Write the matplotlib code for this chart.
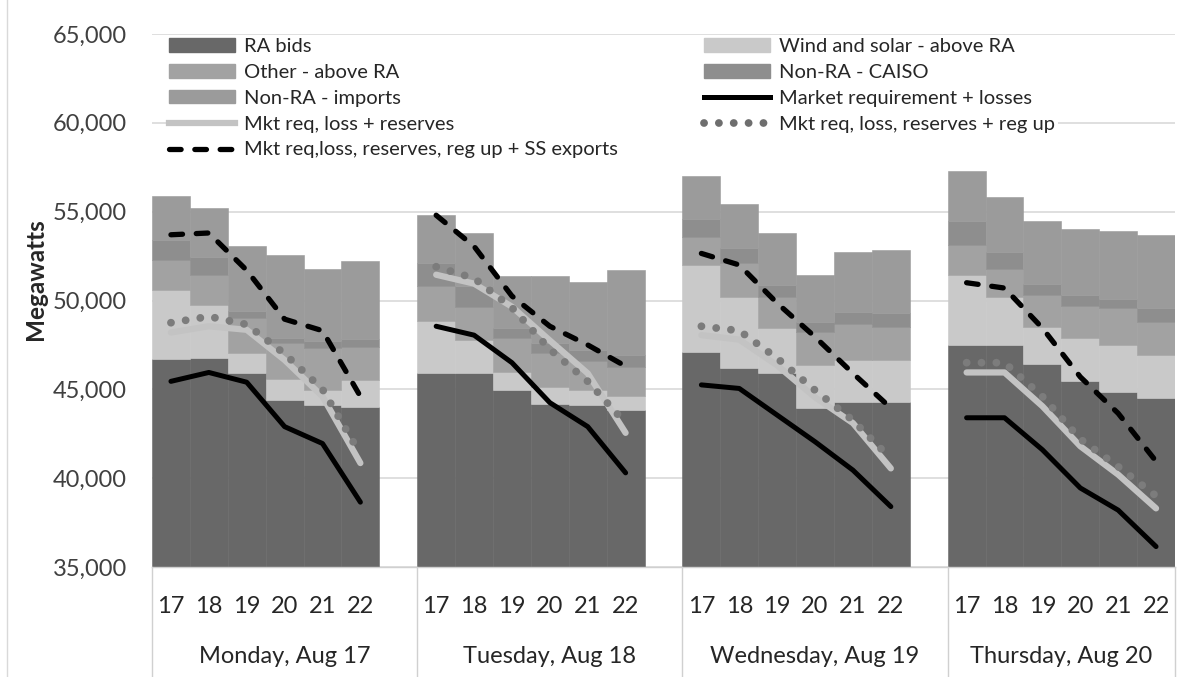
import matplotlib.pyplot as plt
import matplotlib.transforms as mtransforms
from matplotlib.patches import Patch
from matplotlib.lines import Line2D

plt.rcParams['font.family'] = ['Lato', 'DejaVu Sans']

days = ['Monday, Aug 17', 'Tuesday, Aug 18', 'Wednesday, Aug 19', 'Thursday, Aug 20']
hours = [17, 18, 19, 20, 21, 22]

# stacked layers (MW), 6 hours per day, Mon..Thu
ra_bids = [46700, 46750, 45900, 44400, 44100, 44000,
           45900, 45900, 44950, 44200, 44100, 43850,
           47100, 46200, 45900, 43950, 44300, 44300,
           47500, 47500, 46450, 45450, 44850, 44500]
wind_solar = [3900, 3000, 1150, 1200, 850, 1500,
              2950, 1850, 1050, 950, 850, 750,
              4900, 4000, 2550, 2400, 2350, 2350,
              3950, 2700, 2050, 2450, 2650, 2450]
other_above = [1700, 1700, 1950, 2000, 2350, 1900,
               1950, 1900, 1900, 1900, 1650, 1650,
               1600, 1900, 1750, 1900, 2050, 1850,
               1650, 1600, 1800, 1800, 2050, 1850]
nonra_caiso = [1100, 1000, 400, 300, 400, 450,
               1300, 1150, 550, 550, 600, 700,
               1000, 850, 650, 550, 650, 800,
               1350, 950, 650, 600, 550, 750]
nonra_imports = [2500, 2750, 3650, 4650, 4100, 4350,
                 2700, 3000, 2950, 3800, 3850, 4750,
                 2400, 2500, 2950, 2650, 3400, 3550,
                 2850, 3050, 3500, 3700, 3800, 4150]

# requirement lines
mkt_req = [45450, 45950, 45400, 42900, 41950, 38650,
           48550, 48050, 46500, 44250, 42900, 40300,
           45250, 45050, 43550, 42050, 40450, 38400,
           43400, 43400, 41600, 39450, 38200, 36150]
req_reserves = [48200, 48550, 48350, 46650, 44600, 40850,
                51450, 50950, 49650, 47750, 45900, 42550,
                48050, 47800, 46350, 44550, 43100, 40550,
                45950, 45950, 44050, 41800, 40200, 38300]
req_regup = [48750, 49100, 48650, 47000, 45000, 41350,
             51900, 51250, 49600, 47250, 45450, 43100,
             48550, 48300, 46750, 44950, 43250, 41100,
             46500, 46500, 44600, 42200, 40650, 39000]
req_ss_exports = [53700, 53800, 51700, 48950, 48300, 44600,
                  54800, 53050, 50250, 48550, 47500, 46300,
                  52650, 52000, 49850, 47950, 45900, 43950,
                  51000, 50700, 48450, 45700, 43650, 40950]

layers = [
    ('RA bids', ra_bids, '#686868'),
    ('Wind and solar - above RA', wind_solar, '#c9c9c9'),
    ('Other - above RA', other_above, '#a2a2a2'),
    ('Non-RA - CAISO', nonra_caiso, '#8e8e8e'),
    ('Non-RA - imports', nonra_imports, '#9b9b9b'),
]

DOT = (0, (0.01, 1.9))
DASH = (0, (2.2, 2.6))
DOT_COLOR = '#7c7c7c'

n_h = len(hours)
xpos = [d * (n_h + 1) + h for d in range(len(days)) for h in range(n_h)]

fig = plt.figure(figsize=(12, 6.77), dpi=100)
ax = fig.add_axes([152 / 1200, 1 - 567 / 677, 1023 / 1200, 533 / 677])

bottom = [0] * len(xpos)
for name, vals, col in layers:
    ax.bar(xpos, vals, width=1.0, bottom=bottom, color=col, edgecolor=col,
           linewidth=0.4, zorder=2)
    bottom = [b + v for b, v in zip(bottom, vals)]

for d in range(len(days)):
    xs = xpos[d * n_h:(d + 1) * n_h]
    sl = slice(d * n_h, (d + 1) * n_h)
    ax.plot(xs, req_reserves[sl], color='#c3c3c3', lw=4.5,
            solid_capstyle='round', zorder=3)
    ax.plot(xs, req_regup[sl], color=DOT_COLOR, lw=5.6, linestyle=DOT,
            dash_capstyle='round', zorder=4)
    ax.plot(xs, mkt_req[sl], color='black', lw=3.6,
            solid_capstyle='round', zorder=4)
    ax.plot(xs, req_ss_exports[sl], color='black', lw=3.8,
            linestyle=DASH, dash_capstyle='round', zorder=4)

ax.set_ylim(35000, 65000)
ax.set_xlim(-0.5, xpos[-1] + 0.5)
ax.set_yticks(range(35000, 65001, 5000))
ax.set_yticklabels([f'{v:,}' for v in range(35000, 65001, 5000)])
ax.yaxis.grid(True, color='#d9d9d9', lw=1.2, zorder=0)
ax.set_axisbelow(True)
for s in ['top', 'right', 'left']:
    ax.spines[s].set_visible(False)
ax.spines['bottom'].set_color('#d0d0d0')
ax.spines['bottom'].set_linewidth(1.0)
ax.tick_params(axis='y', length=0, pad=18, labelsize=17, labelcolor='#404040')
ax.set_xticks(xpos)
ax.set_xticklabels([str(h) for h in hours] * len(days))
ax.tick_params(axis='x', length=0, pad=21, labelsize=17, labelcolor='#262626')

ax.set_ylabel('Megawatts', fontsize=17.5, fontweight='bold', color='#262626')
ax.yaxis.set_label_coords(-0.103, 0.54)

# two-level category separators and day names
trans = mtransforms.blended_transform_factory(ax.transData, ax.transAxes)
seps = [-0.5] + [d * (n_h + 1) + n_h + 0.5 for d in range(len(days) - 1)] + [xpos[-1] + 0.5]
for sx in seps:
    ax.plot([sx, sx], [0, -0.21], transform=trans, color='#d0d0d0', lw=1.0,
            clip_on=False)
for d, name in enumerate(days):
    cx = (seps[d] + seps[d + 1]) / 2
    ax.text(cx, -0.167, name, transform=trans, ha='center', va='center',
            fontsize=17, color='#262626')

# legend (row-major order as in the original)
h = {}
for name, vals, col in layers:
    h[name] = Patch(facecolor=col, edgecolor=col)
h['Market requirement + losses'] = Line2D([], [], color='black', lw=3.6)
h['Mkt req, loss + reserves'] = Line2D([], [], color='#c3c3c3', lw=4.5)
h['Mkt req, loss, reserves + reg up'] = Line2D([], [], color='#6e6e6e', lw=5.6,
                                               linestyle=DOT, dash_capstyle='round')
h['Mkt req,loss, reserves, reg up + SS exports'] = Line2D([], [], color='black', lw=3.8,
                                                          linestyle=DASH,
                                                          dash_capstyle='round')
order = ['RA bids', 'Other - above RA', 'Non-RA - imports', 'Mkt req, loss + reserves',
         'Mkt req,loss, reserves, reg up + SS exports',
         'Wind and solar - above RA', 'Non-RA - CAISO', 'Market requirement + losses',
         'Mkt req, loss, reserves + reg up']
leg = ax.legend([h[k] for k in order], order, ncol=2, loc='upper left',
                bbox_to_anchor=(166 / 1200, 1 - 35 / 677), bbox_transform=fig.transFigure,
                fontsize=14.5, frameon=True, framealpha=1, facecolor='white',
                edgecolor='none', fancybox=False, borderpad=0.15, borderaxespad=0,
                handlelength=3.3, handleheight=0.65, handletextpad=0.4,
                labelspacing=0.44, columnspacing=4.3)
for t in leg.get_texts():
    t.set_color('#262626')
leg.set_zorder(5)

fig.add_artist(Line2D([7 / 1200, 7 / 1200], [0, 1], color='#d9d9d9', lw=1.0))

fig.savefig('out.png', dpi=100)
